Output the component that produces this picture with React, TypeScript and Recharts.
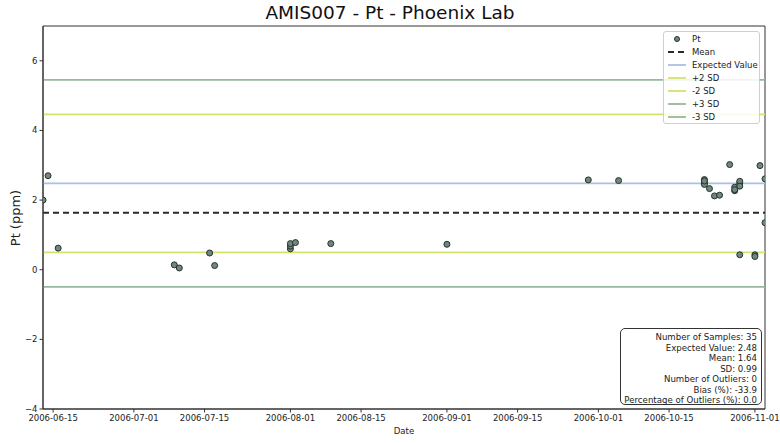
import React from "react";
import {
  ScatterChart,
  Scatter,
  XAxis,
  YAxis,
  ReferenceLine,
  ReferenceArea,
} from "recharts";

// sample dates and Pt results
const sampleDates = [
  "2006-06-13", "2006-06-14", "2006-06-16", "2006-07-09", "2006-07-10",
  "2006-07-16", "2006-07-17", "2006-08-01", "2006-08-01", "2006-08-01",
  "2006-08-02", "2006-08-09", "2006-09-01", "2006-09-29", "2006-10-05",
  "2006-10-22", "2006-10-22", "2006-10-22", "2006-10-22", "2006-10-23",
  "2006-10-24", "2006-10-25", "2006-10-27", "2006-10-28", "2006-10-28",
  "2006-10-28", "2006-10-29", "2006-10-29", "2006-10-29", "2006-10-29",
  "2006-11-01", "2006-11-01", "2006-11-02", "2006-11-03", "2006-11-03",
];
const ptValues = [
  2.0, 2.7, 0.62, 0.14, 0.05,
  0.48, 0.12, 0.6, 0.68, 0.75,
  0.78, 0.75, 0.73, 2.58, 2.56,
  2.59, 2.49, 2.45, 2.55, 2.33,
  2.12, 2.14, 3.02, 2.27, 2.37,
  2.3, 2.49, 2.54, 2.4, 0.43,
  0.43, 0.38, 2.99, 2.61, 1.35,
];

const expectedValue = 2.48;
const meanValue = 1.64;
const sdValue = 0.99;
const outlierCount = 0;

const yTicks = [-4, -2, 0, 2, 4, 6];
const xTickDates = [
  "2006-06-15", "2006-07-01", "2006-07-15", "2006-08-01", "2006-08-15",
  "2006-09-01", "2006-09-15", "2006-10-01", "2006-10-15", "2006-11-01",
];

const toMs = (d: string) => Date.parse(d);
const points = sampleDates.map((d, i) => ({ date: toMs(d), value: ptValues[i] }));
const xTicks = xTickDates.map(toMs);
const xMin = Math.min(...points.map((p) => p.date));
const xMax = Math.max(...points.map((p) => p.date));

const fmtDate = (v: number) => new Date(v).toISOString().slice(0, 10);
const fmtY = (v: number) => (v < 0 ? `\u2212${-v}` : `${v}`);

const COLORS = {
  expected: "#a9c1e3",
  sd2: "#d3e36c",
  sd3: "#97b89d",
  mean: "#2a2a2a",
  pointFill: "#6b8a7a",
  pointStroke: "#2b2f2d",
  axis: "#333",
};

const font = "'DejaVu Sans', sans-serif";

const legendItems = [
  { label: "Pt", kind: "dot", color: COLORS.pointFill },
  { label: "Mean", kind: "dash", color: COLORS.mean },
  { label: "Expected Value", kind: "line", color: COLORS.expected },
  { label: "+2 SD", kind: "line", color: COLORS.sd2 },
  { label: "-2 SD", kind: "line", color: COLORS.sd2 },
  { label: "+3 SD", kind: "line", color: COLORS.sd3 },
  { label: "-3 SD", kind: "line", color: COLORS.sd3 },
];

const bias = ((meanValue - expectedValue) / expectedValue) * 100;
const statLines = [
  `Number of Samples: ${ptValues.length}`,
  `Expected Value: ${expectedValue.toFixed(2)}`,
  `Mean: ${meanValue.toFixed(2)}`,
  `SD: ${sdValue.toFixed(2)}`,
  `Number of Outliers: ${outlierCount}`,
  `Bias (%): ${bias.toFixed(1)}`,
  `Percentage of Outliers (%): ${((outlierCount / ptValues.length) * 100).toFixed(1)}`,
];

const Dot = (props: any) => (
  <circle
    cx={props.cx}
    cy={props.cy}
    r={3}
    fill={COLORS.pointFill}
    stroke={COLORS.pointStroke}
    strokeWidth={1}
  />
);

const Legend = () => (
  <div
    style={{
      position: "absolute",
      left: 663,
      top: 31,
      width: 97,
      height: 93,
      boxSizing: "border-box",
      border: "1px solid #cfcfcf",
      borderRadius: 3,
      background: "rgba(255,255,255,0.85)",
      fontFamily: font,
      fontSize: 8.5,
      color: "#222",
      paddingTop: 1,
    }}
  >
    {legendItems.map((it) => (
      <div key={it.label} style={{ display: "flex", alignItems: "center", height: 12.9 }}>
        <svg width={26} height={10} style={{ marginLeft: 2 }}>
          {it.kind === "dot" && (
            <circle cx={11} cy={5} r={2.5} fill={it.color} stroke={COLORS.pointStroke} />
          )}
          {it.kind === "dash" && (
            <line x1={2} x2={20} y1={5} y2={5} stroke={it.color} strokeWidth={2} strokeDasharray="6 4" />
          )}
          {it.kind === "line" && (
            <line x1={2} x2={20} y1={5} y2={5} stroke={it.color} strokeWidth={1.8} />
          )}
        </svg>
        <span>{it.label}</span>
      </div>
    ))}
  </div>
);

const Stats = () => (
  <div
    style={{
      position: "absolute",
      left: 620,
      top: 328,
      width: 142,
      height: 77,
      boxSizing: "border-box",
      border: "1px solid #333",
      borderRadius: 5,
      background: "#fff",
      fontFamily: font,
      fontSize: 8.6,
      color: "#222",
      textAlign: "right",
      padding: "3px 4px 0 0",
      lineHeight: "10.5px",
    }}
  >
    {statLines.map((s) => (
      <div key={s}>{s}</div>
    ))}
  </div>
);

export default function App() {
  return (
    <div style={{ position: "absolute", left: 0, top: 0, width: 780, height: 443, background: "#fff" }}>
      <div
        style={{
          position: "absolute",
          left: 0,
          top: 2,
          width: 780,
          textAlign: "center",
          fontFamily: font,
          fontSize: 18.5,
          color: "#111",
        }}
      >
        AMIS007 - Pt - Phoenix Lab
      </div>
      <div
        style={{
          position: "absolute",
          left: 15,
          top: 218,
          transform: "translate(-50%, -50%) rotate(-90deg)",
          fontFamily: font,
          fontSize: 13,
          color: "#222",
          whiteSpace: "nowrap",
        }}
      >
        Pt (ppm)
      </div>
      <div
        style={{
          position: "absolute",
          left: 404,
          top: 426,
          transform: "translateX(-50%)",
          fontFamily: font,
          fontSize: 8.6,
          color: "#222",
        }}
      >
        Date
      </div>
      <ScatterChart
        width={780}
        height={443}
        margin={{ top: 26, right: 15, bottom: 14, left: 13 }}
        style={{ position: "absolute", left: 0, top: 0 }}
      >
        <XAxis
          dataKey="date"
          type="number"
          domain={[xMin, xMax]}
          ticks={xTicks}
          tickFormatter={fmtDate}
          height={20}
          tickSize={3.5}
          stroke={COLORS.axis}
          tick={{ fontSize: 8.5, fontFamily: font, fill: "#222" }}
          allowDataOverflow
        />
        <YAxis
          dataKey="value"
          type="number"
          domain={[-4, 7]}
          ticks={yTicks}
          tickFormatter={fmtY}
          width={30}
          tickSize={3.5}
          stroke={COLORS.axis}
          tick={{ fontSize: 8.5, fontFamily: font, fill: "#222" }}
          allowDataOverflow
        />
        <ReferenceArea
          x1={xMin}
          x2={xMax}
          y1={-4}
          y2={7}
          fill="none"
          stroke={COLORS.axis}
          strokeWidth={1}
          ifOverflow="visible"
        />
        <ReferenceLine y={expectedValue + 3 * sdValue} stroke={COLORS.sd3} strokeWidth={1.8} />
        <ReferenceLine y={expectedValue - 3 * sdValue} stroke={COLORS.sd3} strokeWidth={1.8} />
        <ReferenceLine y={expectedValue + 2 * sdValue} stroke={COLORS.sd2} strokeWidth={1.8} />
        <ReferenceLine y={expectedValue - 2 * sdValue} stroke={COLORS.sd2} strokeWidth={1.8} />
        <ReferenceLine y={expectedValue} stroke={COLORS.expected} strokeWidth={1.8} />
        <ReferenceLine y={meanValue} stroke={COLORS.mean} strokeWidth={2} strokeDasharray="6 4" />
        <Scatter data={points} shape={Dot} isAnimationActive={false} />
      </ScatterChart>
      <Legend />
      <Stats />
    </div>
  );
}
